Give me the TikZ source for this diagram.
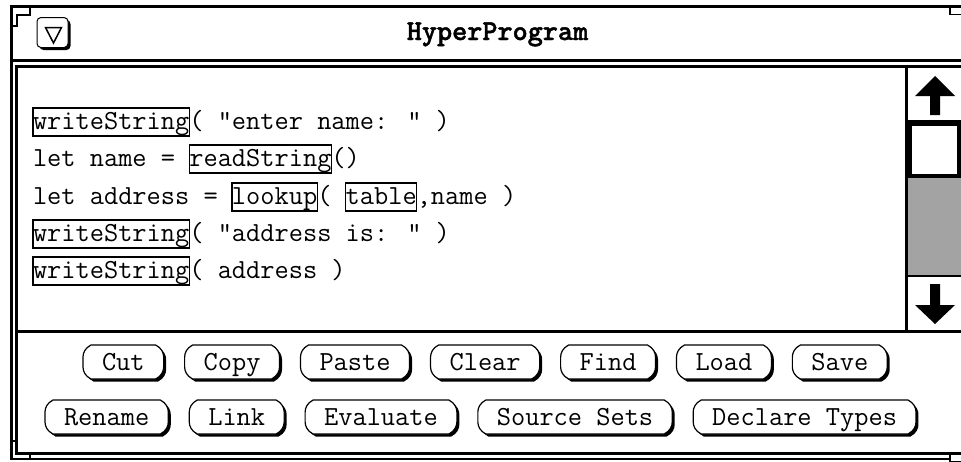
\documentclass[tikz,border=0pt]{standalone}
\usepackage{fontspec}
\newfontfamily\titlefont{lmmonolt10-bold.otf}[FakeBold=1.5]
\usetikzlibrary{shadows,positioning,calc}
\pgfdeclarelayer{background}
\pgfsetlayers{background,main}
\newcommand\codefont{\ttfamily\fontsize{27.6}{30}\selectfont}
% outline of a button around node #1, moved by #2 to the right and down
\newcommand\btnpath[2]{($(#1.north west)+(8+#2,#2)$) -- ($(#1.north east)+(-8+#2,#2)$)
  .. controls ($(#1.north east)+(-2+#2,3+#2)$) and ($(#1.north east)+(#2,8+#2)$) .. ($(#1.north east)+(#2,12+#2)$)
  -- ($(#1.south east)+(#2,-12+#2)$)
  .. controls ($(#1.south east)+(#2,-8+#2)$) and ($(#1.south east)+(-2+#2,-3+#2)$) .. ($(#1.south east)+(-8+#2,#2)$)
  -- ($(#1.south west)+(8+#2,#2)$)
  .. controls ($(#1.south west)+(2+#2,-3+#2)$) and ($(#1.south west)+(#2,-8+#2)$) .. ($(#1.south west)+(#2,-12+#2)$)
  -- ($(#1.north west)+(#2,12+#2)$)
  .. controls ($(#1.north west)+(#2,8+#2)$) and ($(#1.north west)+(2+#2,3+#2)$) .. ($(#1.north west)+(8+#2,#2)$) -- cycle}
\begin{document}
\begin{tikzpicture}[x=1pt,y=-1pt,
  winline/.style={line width=3pt},
  thinline/.style={line width=1.5pt},
  code/.style={font=\codefont, inner sep=0pt, outer sep=0pt, anchor=base west,
               text height=20.5pt, text depth=5.5pt},
  kw/.style={code, draw, line width=1.4pt, inner ysep=1pt},
  sheen/.style={drop shadow={shadow xshift=2.5pt, shadow yshift=-2.5pt, fill=black, opacity=1}},
  btn/.style={font=\codefont, inner xsep=19pt, inner ysep=0pt, text height=19pt, text depth=3pt,
              minimum height=34pt, outer sep=0pt},
  btnshadow/.style={fill=black},
  btnface/.style={fill=white, draw=black, line width=1.2pt},
  arrowfill/.style={fill=black, draw=none}
]
\useasboundingbox (0,0) rectangle (961,461);
\begin{pgfonlayer}{background}
\fill[white] (0,0) rectangle (961,461);
\end{pgfonlayer}

% ---------- window frame ----------
\draw[winline] (9.5,6.5) -- (961,6.5);
\draw[winline] (11,5) -- (11,459.5);
\draw[winline] (11,60.5) -- (961,60.5);
\draw[winline] (961,66.5) -- (16.5,66.5) -- (16.5,453.5) -- (961,453.5);
\draw[thinline] (11,459) -- (950,459);
% corner notches
\draw[line width=2pt] (12,25.5) -- (16.5,25.5) -- (16.5,15) -- (30,15) -- (30,8);
\draw[thinline] (950,7) rectangle (962,14.5);
\draw[thinline] (11,441) -- (16.5,441);
\draw[thinline] (30,453.5) -- (30,459);
\draw[thinline] (950,454) rectangle (962,462);

% ---------- title bar ----------
\node[draw, fill=white, rounded corners=4pt, line width=1pt, minimum width=31pt,
      minimum height=30pt, inner sep=0pt, sheen] (menu) at (52.5,32.5) {};
\draw[line width=1.5pt, line join=miter] (45.5,27.5) -- (61.5,27.5) -- (53.5,43) -- cycle;
\node[font=\titlefont\fontsize{28.8}{30}\selectfont, anchor=base, inner sep=0pt]
      (title) at (497.5,40) {HyperProgram};

% ---------- code area ----------
\node[kw] (k1) at (33,129.5) {writeString};
\node[code] (c1) at (k1.base east) {( "enter name: " )};

\node[code] (c2a) at (33,166.5) {let name =\ \mbox{}};
\node[kw] (k2) at (c2a.base east) {readString};
\node[code] (c2b) at (k2.base east) {()};

\node[code] (c3a) at (33,204.5) {let address =\ \mbox{}};
\node[kw] (k3a) at (c3a.base east) {lookup};
\node[code] (c3b) at (k3a.base east) {(\ \mbox{}};
\node[kw] (k3b) at (c3b.base east) {table};
\node[code] (c3c) at (k3b.base east) {,name )};

\node[kw] (k4) at (33,241.5) {writeString};
\node[code] (c4) at (k4.base east) {( "address is: " )};

\node[kw] (k5) at (33,278.5) {writeString};
\node[code] (c5) at (k5.base east) {( address )};

% ---------- scroll bar ----------
\draw[winline] (906.5,66.5) -- (906.5,331.5);
\draw[winline] (906,121.5) -- (961,121.5);
\fill[black!36] (908,177.5) rectangle (961,275.5);
\draw[line width=4pt] (910,123.5) rectangle (959,175.5);
\draw[thinline] (906,276) -- (961,276);
\fill[arrowfill] (915,96) -- (935,76) -- (955,96) -- (940,96) -- (940,115)
      -- (930,115) -- (930,96) -- cycle;
\fill[arrowfill] (915,305) -- (935,324) -- (955,305) -- (940,305) -- (940,284)
      -- (930,284) -- (930,305) -- cycle;

% divider
\draw[winline] (16.5,331.5) -- (961,331.5);

% ---------- buttons ----------
\node[btn, anchor=west] (cut) at (83,362) {Cut};
\node[btn, right=21pt of cut] (copy) {Copy};
\node[btn, right=21pt of copy] (paste) {Paste};
\node[btn, right=21pt of paste] (clear) {Clear};
\node[btn, right=21pt of clear] (find) {Find};
\node[btn, right=21pt of find] (load) {Load};
\node[btn, right=21pt of load] (save) {Save};

\node[btn, anchor=west] (rename) at (45,417) {Rename};
\node[btn, right=21pt of rename] (link) {Link};
\node[btn, right=21pt of link] (evaluate) {Evaluate};
\node[btn, right=21pt of evaluate] (sourcesets) {Source Sets};
\node[btn, right=21pt of sourcesets] (declaretypes) {Declare Types};

\begin{pgfonlayer}{background}
\foreach \b in {cut,copy,paste,clear,find,load,save,rename,link,evaluate,sourcesets,declaretypes}{
  \fill[btnshadow] \btnpath{\b}{2.5};
  \path[btnface] \btnpath{\b}{0};
}
\end{pgfonlayer}
\end{tikzpicture}
\end{document}
